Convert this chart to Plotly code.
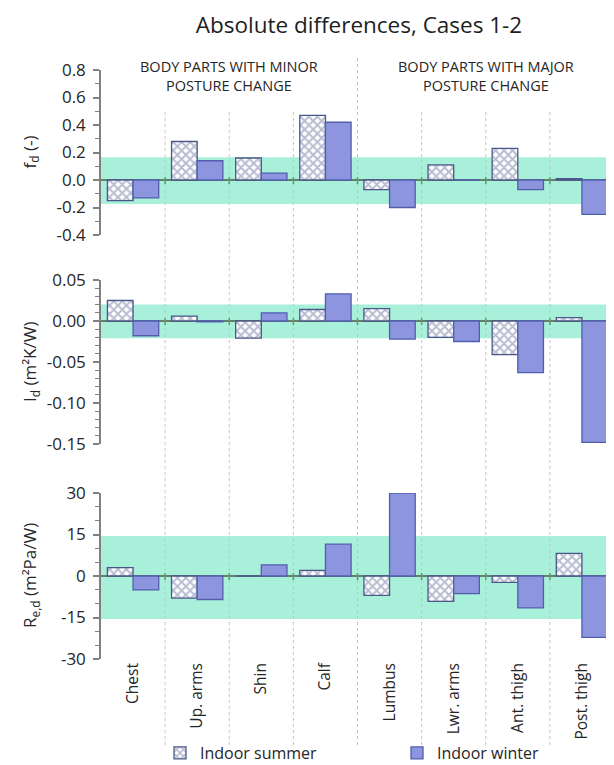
import plotly.graph_objects as go

# ---------------- data ----------------
categories = ["Chest", "Up. arms", "Shin", "Calf", "Lumbus", "Lwr. arms", "Ant. thigh", "Post. thigh"]
series_names = ["Indoor summer", "Indoor winter"]

fd_summer = [-0.15, 0.28, 0.16, 0.47, -0.07, 0.11, 0.23, 0.01]
fd_winter = [-0.13, 0.14, 0.05, 0.42, -0.20, 0.0, -0.07, -0.25]

id_summer = [0.025, 0.006, -0.021, 0.014, 0.015, -0.020, -0.041, 0.004]
id_winter = [-0.018, -0.001, 0.010, 0.033, -0.022, -0.025, -0.063, -0.148]

red_summer = [3.0, -8.0, 0.0, 2.0, -7.0, -9.2, -2.3, 8.2]
red_winter = [-5.0, -8.5, 4.0, 11.5, 30.0, -6.4, -11.5, -22.2]

fd_ticks = [-0.4, -0.2, 0.0, 0.2, 0.4, 0.6, 0.8]
id_ticks = [-0.15, -0.10, -0.05, 0.00, 0.05]
red_ticks = [-30, -15, 0, 15, 30]

fd_band = (-0.175, 0.165)
id_band = (-0.021, 0.020)
red_band = (-15.5, 14.5)

group_labels = ["BODY PARTS WITH MINOR<br>POSTURE CHANGE", "BODY PARTS WITH MAJOR<br>POSTURE CHANGE"]
title_text = "Absolute differences, Cases 1-2"
ytitles = ["f<sub>d</sub> (-)", "I<sub>d</sub> (m²K/W)", "R<sub>e,d</sub> (m²Pa/W)"]

# ---------------- layout geometry ----------------
# the page body has an 8px margin, so the figure starts at (8, 8) in the window
OFF = 8
W, H = 614 - OFF, 765 - OFF
PLOT_L, PLOT_R, PLOT_T, PLOT_B = 101, 614, 70, 659     # window pixels of the plot area
ML, MR, MT = PLOT_L - OFF, 0, PLOT_T - OFF
MB = H - (PLOT_B - OFF)
PH = PLOT_B - PLOT_T
PW = PLOT_R - PLOT_L


def py2paper(py):
    return (PLOT_B - py) / PH


def px2paper(px):
    return (px - PLOT_L) / PW


def cx(px):
    return (px - OFF) / W


def cy(py):
    return 1 - (py - OFF) / H


domains = [
    [py2paper(235), 1.0],
    [py2paper(444), py2paper(280)],
    [0.0, py2paper(493)],
]

FONT = "Open Sans"
TXT = "#262626"
AX = "#808080"

summer_style = dict(
    marker=dict(
        color="white",
        line=dict(color="#4a5788", width=1.3),
        pattern=dict(shape="x", fgcolor="#6f79a3", bgcolor="white", size=6, solidity=0.55),
    )
)
winter_style = dict(marker=dict(color="#8d95de", line=dict(color="#4f5fae", width=1.3)))

fig = go.Figure()
panels = [
    (fd_summer, fd_winter, "y"),
    (id_summer, id_winter, "y2"),
    (red_summer, red_winter, "y3"),
]
for i, (s, w, ya) in enumerate(panels):
    fig.add_trace(go.Bar(x=categories, y=s, name=series_names[0], yaxis=ya, xaxis="x",
                         offsetgroup="s", legendgroup="s", legend="legend",
                         showlegend=(i == 0), **summer_style))
    fig.add_trace(go.Bar(x=categories, y=w, name=series_names[1], yaxis=ya, xaxis="x",
                         offsetgroup="w", legendgroup="w", legend="legend2",
                         showlegend=(i == 0), **winter_style))

shapes = []
# tolerance bands
for band, ya in [(fd_band, "y"), (id_band, "y2"), (red_band, "y3")]:
    shapes.append(dict(type="rect", xref="x domain", yref=ya, x0=0, x1=1, y0=band[0], y1=band[1],
                       fillcolor="#a8f0da", line=dict(width=0), layer="below"))

# dotted category separators
n = len(categories)
for k in range(n - 1):
    xb = k + 0.5
    top = 55 if k == n // 2 - 1 else 110
    shapes.append(dict(type="line", xref="x", yref="paper", x0=xb, x1=xb,
                       y0=py2paper(745), y1=py2paper(top),
                       line=dict(color="#c4c4c4", width=1, dash="dot"), layer="below"))

# small ticks on the zero lines at category boundaries
for ya in ["y", "y2", "y3"]:
    for k in range(n):
        xb = k + 0.5
        shapes.append(dict(type="line", xref="x", yref=ya, x0=xb, x1=xb,
                           ysizemode="pixel", yanchor=0, y0=-4, y1=3,
                           line=dict(color="#5e9a72", width=1.5)))

annotations = []
for j, lbl in enumerate(group_labels):
    annotations.append(dict(text=lbl, xref="x", yref="paper", x=(n / 2) * j + (n / 2 - 1) / 2,
                            y=py2paper(76), showarrow=False, xanchor="center", yanchor="middle",
                            font=dict(family=FONT, size=14.5, color=TXT)))

for j, t in enumerate(ytitles):
    d = domains[j]
    annotations.append(dict(text=t, xref="paper", yref="paper", x=px2paper(30), y=(d[0] + d[1]) / 2,
                            textangle=-90, showarrow=False, xanchor="center", yanchor="middle",
                            font=dict(family=FONT, size=17, color=TXT)))


def yaxis_def(dom, ticks, fmt, rng, minor_dtick):
    return dict(
        domain=dom, anchor="x", range=rng, automargin=False,
        tickmode="array", tickvals=ticks, ticktext=[fmt.format(v) for v in ticks],
        showline=True, linecolor=AX, linewidth=1.5,
        ticks="outside", ticklen=6, tickcolor=AX, tickwidth=1.5,
        minor=dict(tick0=0, dtick=minor_dtick, ticks="outside", ticklen=4, tickcolor=AX, tickwidth=1),
        ticklabelstandoff=4,
        showgrid=False,
        zeroline=True, zerolinecolor="#62806c", zerolinewidth=2,
        tickfont=dict(family=FONT, size=17, color=TXT),
    )


legend_common = dict(orientation="h", xref="container", yref="container", xanchor="left",
                     y=cy(753), yanchor="middle", bgcolor="rgba(0,0,0,0)",
                     font=dict(family=FONT, size=16, color=TXT))

fig.update_layout(
    width=W, height=H,
    margin=dict(l=ML, r=MR, t=MT, b=MB, autoexpand=False),
    paper_bgcolor="white", plot_bgcolor="rgba(0,0,0,0)",
    barmode="group", bargap=0.2, bargroupgap=0.0,
    title=dict(text=title_text, x=cx(359), xref="container", xanchor="center",
               y=cy(25), yref="container", yanchor="middle",
               font=dict(family=FONT, size=22.5, color="#1e1e1e")),
    xaxis=dict(anchor="y3", domain=[0, 1], range=[-0.5, n - 0.5], showline=False, ticks="",
               showgrid=False, zeroline=False, tickangle=-90, automargin=False,
               tickfont=dict(family=FONT, size=15.5, color=TXT)),
    yaxis=yaxis_def(domains[0], fd_ticks, "{:.1f}", [fd_ticks[0], fd_ticks[-1]], 0.1),
    yaxis2=yaxis_def(domains[1], id_ticks, "{:.2f}", [id_ticks[0], id_ticks[-1]], 0.01),
    yaxis3=yaxis_def(domains[2], red_ticks, "{:.0f}", [red_ticks[0], red_ticks[-1]], 5),
    shapes=shapes,
    annotations=annotations,
    legend=dict(x=cx(160), **legend_common),
    legend2=dict(x=cx(397), **legend_common),
    showlegend=True,
)

fig.write_html("out.html")
